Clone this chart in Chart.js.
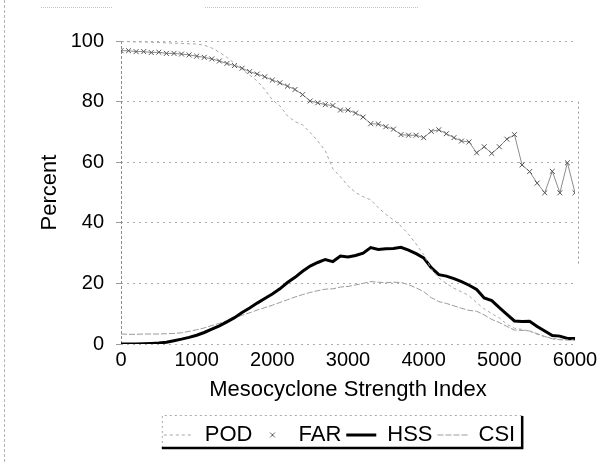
<!DOCTYPE html>
<html><head><meta charset="utf-8">
<script src="https://cdn.jsdelivr.net/npm/chart.js@4/dist/chart.umd.min.js"></script>
<style>
html,body{margin:0;padding:0;background:#fff;}
#wrap{position:relative;width:605px;height:462px;overflow:hidden;}
canvas{position:absolute;left:0;top:0;}
.scan{position:absolute;}
</style></head><body>
<div id="wrap">
<canvas id="c" width="605" height="462"></canvas>
<div class="scan" style="left:4px;top:0;height:462px;border-left:1px dashed #b4b4b4"></div>
<div class="scan" style="left:41px;top:7px;width:71px;border-top:1px dotted #c4c4c4"></div>
<div class="scan" style="left:205px;top:7px;width:213px;border-top:1px dotted #c4c4c4"></div>
</div>
<script>
const msi = [0,100,200,300,400,500,600,700,800,900,1000,1100,1200,1300,1400,1500,1600,1700,1800,1900,2000,
  2100,2200,2300,2400,2500,2600,2700,2800,2900,3000,3100,3200,3300,3400,3500,3600,3700,3800,3900,4000,
  4100,4200,4300,4400,4500,4600,4700,4800,4900,5000,5100,5200,5300,5400,5500,5600,5700,5800,5900,6000];
const pod = [99.8,99.8,99.7,99.7,99.6,99.5,99.4,99.3,99.2,99.1,99.0,98.6,97.7,96.3,94.6,92.6,90.6,88.8,86.8,84.0,80.6,
  78.6,75.3,73.4,72.3,69.8,67.0,63.8,57.8,55.2,52.2,50.0,48.6,47.6,45.0,42.8,41.0,38.9,36.2,33.0,29.5,
  24.8,21.8,20.0,18.4,17.2,16.0,13.6,11.6,10.0,8.6,6.5,5.2,4.8,4.3,3.2,2.4,1.9,1.6,1.4,1.3];
const far = [96.8,96.8,96.5,96.5,96.2,96.3,95.9,95.9,95.7,95.4,95.0,94.6,94.1,93.4,92.6,91.9,91.0,89.9,89.1,88.2,87.1,
  86.2,85.1,84.0,82.3,80.2,79.6,79.0,78.7,77.2,77.2,76.2,74.9,72.7,72.6,71.7,70.9,69.1,68.9,68.9,68.1,
  70.2,70.7,69.4,68.1,67.0,66.7,63.1,65.1,62.9,65.1,67.6,69.1,59.1,56.9,53.1,49.9,57.0,49.9,59.8,49.9];
const hss = [0,0,0,0.1,0.2,0.3,0.6,1.1,1.6,2.2,2.9,3.8,4.9,6.0,7.3,8.7,10.4,11.9,13.5,15.0,16.5,
  18.2,20.3,22.0,24.0,25.7,26.9,27.9,27.2,29.0,28.7,29.2,30.0,31.8,31.2,31.4,31.5,31.9,31.0,29.8,28.4,
  25.2,22.9,22.4,21.6,20.6,19.4,18.0,15.2,14.3,12.0,9.8,7.6,7.4,7.5,5.8,4.3,2.8,2.6,1.8,1.8];
const csi = [3.3,3.2,3.2,3.3,3.3,3.3,3.4,3.5,3.7,4.2,4.7,5.3,6.1,6.8,7.7,8.6,9.5,10.3,11.2,12.0,12.8,
  13.7,14.6,15.5,16.3,17.0,17.6,18.1,18.2,18.8,19.0,19.5,20.0,20.6,20.4,20.2,20.4,20.3,19.6,18.5,17.3,
  15.3,14.0,13.4,12.6,11.8,11.1,10.8,9.6,8.1,7.1,5.8,4.6,4.5,4.3,3.4,2.5,1.7,1.4,1.3,1.2];
const xTicks = [0,1000,2000,3000,4000,5000,6000];
const yTicks = [0,20,40,60,80,100];
const seriesNames = ['POD','FAR','HSS','CSI'];
const xTitle = 'Mesocyclone Strength Index';
const yTitle = 'Percent';

const FONT = "'Liberation Sans', Arial, sans-serif";
const pts = arr => msi.map((x, i) => ({x: x, y: arr[i]}));

// small cross glyph for the FAR legend entry
const farGlyph = document.createElement('canvas');
farGlyph.width = 8; farGlyph.height = 8;
(function () {
  const g = farGlyph.getContext('2d');
  g.strokeStyle = '#666'; g.lineWidth = 1;
  g.beginPath(); g.moveTo(1.5, 1.5); g.lineTo(6.5, 6.5); g.moveTo(6.5, 1.5); g.lineTo(1.5, 6.5); g.stroke();
})();

const frame = {
  id: 'frame',
  afterLayout(chart) {
    const lg = chart.legend;
    if (lg) { lg.left += 52; lg.right += 52; }
  },
  beforeDatasetsDraw(chart) {
    const ctx = chart.ctx, ca = chart.chartArea;
    ctx.save();
    ctx.strokeStyle = '#8c8c8c'; ctx.lineWidth = 1; ctx.setLineDash([3, 2]);
    ctx.beginPath();
    ctx.moveTo(ca.left + 0.5, ca.top); ctx.lineTo(ca.left + 0.5, ca.bottom);
    ctx.stroke();
    ctx.restore();
  },
  afterDraw(chart) {
    const ctx = chart.ctx;
    const ca = chart.chartArea;
    const ys = chart.scales.y;
    ctx.save();
    ctx.strokeStyle = '#999';
    ctx.lineWidth = 1;
    ctx.setLineDash([2, 3]);
    ctx.beginPath();
    ctx.moveTo(ca.right + 3.5, ys.getPixelForValue(80));
    ctx.lineTo(ca.right + 3.5, ys.getPixelForValue(26));
    ctx.stroke();
    const hb = chart.legend.legendHitBoxes;
    if (hb && hb.length) {
      const l = hb[0].left - 2;
      const last = hb[hb.length - 1];
      const r = last.left + last.width + 7;
      const t = hb[0].top - 9;
      const b = hb[0].top + hb[0].height + 2;
      ctx.strokeStyle = '#aaa';
      ctx.setLineDash([2, 3]);
      ctx.beginPath();
      ctx.moveTo(l + 0.5, b);
      ctx.lineTo(l + 0.5, t + 0.5);
      ctx.lineTo(r, t + 0.5);
      ctx.stroke();
      ctx.setLineDash([]);
      ctx.strokeStyle = '#000';
      ctx.lineWidth = 2.5;
      ctx.beginPath();
      ctx.moveTo(r, t + 1);
      ctx.lineTo(r, b);
      ctx.lineTo(l, b);
      ctx.stroke();
    }
    ctx.restore();
  }
};

new Chart(document.getElementById('c'), {
  type: 'line',
  data: {
    datasets: [
      {label: seriesNames[0], data: pts(pod), borderColor: '#a6a6a6', borderWidth: 1, borderDash: [3, 3],
       pointRadius: 0, pointStyle: 'line', tension: 0},
      {label: seriesNames[1], data: pts(far), borderColor: '#8c8c8c', borderWidth: 1, pointStyle: 'crossRot',
       pointRadius: 3.5, pointBorderColor: '#555', pointBorderWidth: 1, tension: 0},
      {label: seriesNames[2], data: pts(hss), borderColor: '#000', borderWidth: 3, pointRadius: 0,
       pointStyle: 'line', tension: 0},
      {label: seriesNames[3], data: pts(csi), borderColor: '#9a9a9a', borderWidth: 1, borderDash: [6, 2],
       pointRadius: 0, pointStyle: 'line', tension: 0}
    ]
  },
  options: {
    responsive: false,
    animation: false,
    devicePixelRatio: 1,
    layout: {padding: {left: 0, right: 30, top: 41, bottom: 6}},
    plugins: {
      tooltip: {enabled: false},
      legend: {
        position: 'bottom',
        labels: {
          font: {family: FONT, size: 22},
          color: '#000',
          usePointStyle: true,
          pointStyleWidth: 30,
          boxHeight: 6,
          padding: 5,
          generateLabels(chart) {
            const items = Chart.defaults.plugins.legend.labels.generateLabels(chart);
            items.forEach((it, i) => {
              const ds = chart.data.datasets[i];
              it.strokeStyle = ds.borderColor;
              it.fillStyle = 'transparent';
              it.lineWidth = i === 2 ? 3 : 1;
              it.lineDash = ds.borderDash || [];
              it.pointStyle = i === 1 ? farGlyph : 'line';
            });
            return items;
          }
        }
      }
    },
    scales: {
      x: {
        type: 'linear', min: 0, max: 6000,
        afterBuildTicks: s => { s.ticks = xTicks.map(v => ({value: v})); },
        afterFit: s => { s.height = 75; },
        grid: {display: false, drawTicks: false},
        border: {display: false},
        ticks: {font: {family: FONT, size: 20}, color: '#000', padding: 4, maxRotation: 0,
                callback: v => String(v)},
        title: {display: true, text: xTitle, font: {family: FONT, size: 22}, color: '#000',
                padding: {top: 0, bottom: 16}}
      },
      y: {
        min: 0, max: 100,
        afterBuildTicks: s => { s.ticks = yTicks.map(v => ({value: v})); },
        afterFit: s => { s.width = 121; },
        grid: {color: '#ababab', drawTicks: true, tickLength: 5, tickColor: '#9a9a9a'},
        border: {display: false, dash: [2, 4]},
        ticks: {font: {family: FONT, size: 20}, color: '#000', padding: 12},
        title: {display: true, text: yTitle, font: {family: FONT, size: 22}, color: '#000',
                padding: {top: 37, bottom: 0}}
      }
    }
  },
  plugins: [frame]
});
</script>
</body></html>
